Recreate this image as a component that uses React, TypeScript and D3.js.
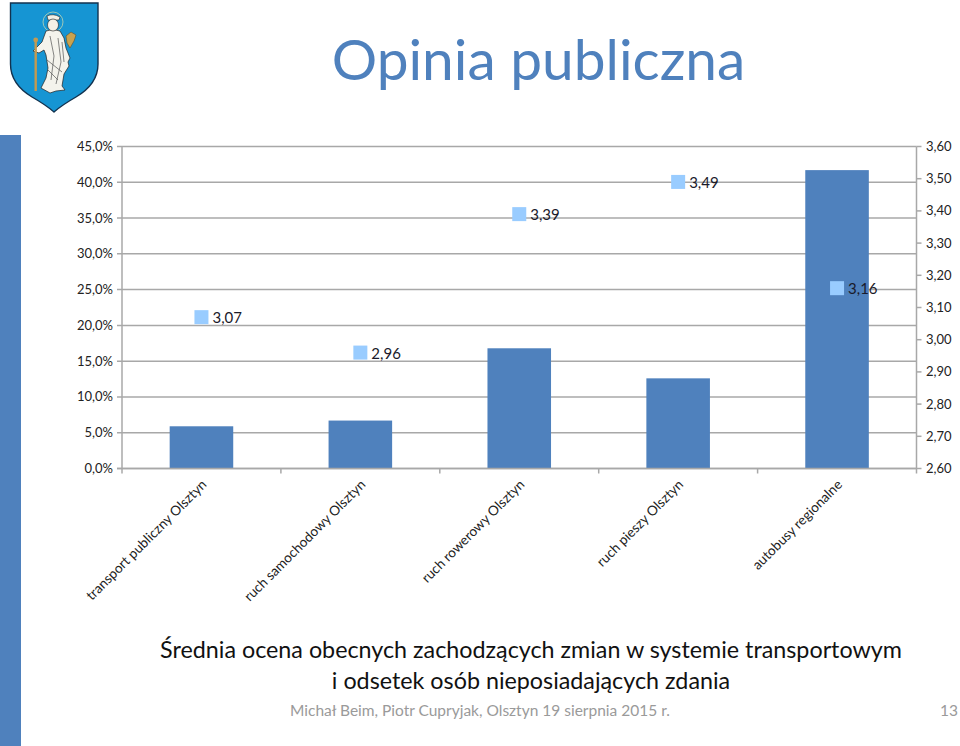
import React, { useEffect, useRef } from "react";
import * as d3 from "d3";

const categories = [
  "transport publiczny Olsztyn",
  "ruch samochodowy Olsztyn",
  "ruch rowerowy Olsztyn",
  "ruch pieszy Olsztyn",
  "autobusy regionalne",
];
const shareValues = [5.9, 6.7, 16.8, 12.6, 41.7];
const ratingValues = [3.07, 2.96, 3.39, 3.49, 3.16];
const leftTicks = [0, 5, 10, 15, 20, 25, 30, 35, 40, 45];
const rightTicks = [2.6, 2.7, 2.8, 2.9, 3.0, 3.1, 3.2, 3.3, 3.4, 3.5, 3.6];
const captionLines = [
  "Średnia ocena obecnych zachodzących zmian w systemie transportowym",
  "i odsetek osób nieposiadających zdania",
];

const width = 960;
const height = 746;
const font = "Lato, 'Open Sans', sans-serif";
const blue = "#4f81bd";
const grey = "#a8a8a8";

const App = () => {
  const svgRef = useRef<SVGSVGElement>(null);

  useEffect(() => {
    const svg = d3.select(svgRef.current);
    svg.selectAll("*").remove();

    const left = 122;
    const right = 916.5;
    const top = 146.5;
    const bottom = 468.5;

    const x = d3
      .scaleBand()
      .domain(categories)
      .range([left, right])
      .paddingInner(0.6)
      .paddingOuter(0.3);
    const yLeft = d3.scaleLinear().domain([0, 45]).range([bottom, top]);
    const yRight = d3.scaleLinear().domain([2.6, 3.6]).range([bottom, top]);

    // side stripe of the slide
    svg.append("rect").attr("x", 0).attr("y", 135).attr("width", 21).attr("height", 611).attr("fill", blue);

    // crest
    const crest = svg.append("g");
    crest
      .append("path")
      .attr("d", "M10.5 3 H98 V64 Q98 84 76 97 Q62 105 54 112 Q46 105 32 97 Q10.5 84 10.5 64 Z")
      .attr("fill", "#1695d3")
      .attr("stroke", "#12324f")
      .attr("stroke-width", 1.4);
    crest.append("circle").attr("cx", 53).attr("cy", 22).attr("r", 10).attr("fill", "none").attr("stroke", "#9cc7b8").attr("stroke-width", 1);
    crest
      .append("path")
      .attr("d", "M46 31 Q53 28 60 31 L64 38 L66 48 L70 58 L68 62 L69 66 L64 74 L62 86 L65 90 L56 91 L50 93 L41 88 L46 78 L48 68 L46 55 L44 50 L39 53 L33 51 L42 42 Z")
      .attr("fill", "#f4f3ec")
      .attr("stroke", "#222")
      .attr("stroke-width", 0.7);
    crest.append("path").attr("d", "M47 16 Q53 13 60 17 L59 20 L48 20 Z").attr("fill", "#f2f0e6").attr("stroke", "#222").attr("stroke-width", 0.6);
    crest.append("ellipse").attr("cx", 53).attr("cy", 25).attr("rx", 5.5).attr("ry", 6).attr("fill", "#f4f1e6").attr("stroke", "#222").attr("stroke-width", 0.6);
    crest.append("path").attr("d", "M50 36 L54 56 L51 80 M58 38 L61 62 L56 84 M47 60 L62 72 M48 70 L58 80 M62 42 L64 62").attr("fill", "none").attr("stroke", "#555").attr("stroke-width", 0.7);
    crest.append("rect").attr("x", 34.5).attr("y", 40).attr("width", 2.4).attr("height", 51).attr("fill", "#c49a50");
    crest.append("circle").attr("cx", 35.7).attr("cy", 40).attr("r", 2.4).attr("fill", "#c49a50");
    crest.append("path").attr("d", "M66 36 L71 32 L76 35 L74 41 L70 48 L67 43 Z").attr("fill", "#c9a24e").attr("stroke", "#5a4520").attr("stroke-width", 0.5);

    svg
      .append("text")
      .attr("x", 538.5)
      .attr("y", 80)
      .attr("text-anchor", "middle")
      .attr("font-family", font)
      .attr("font-size", 56.8)
      .attr("fill", blue)
      .text("Opinia publiczna");

    // gridlines
    svg
      .append("g")
      .selectAll("line")
      .data(leftTicks)
      .join("line")
      .attr("x1", left - 5)
      .attr("x2", right)
      .attr("y1", (d) => yLeft(d))
      .attr("y2", (d) => yLeft(d))
      .attr("stroke", grey)
      .attr("stroke-width", 1.5);

    // bars
    svg
      .append("g")
      .selectAll("rect")
      .data(shareValues)
      .join("rect")
      .attr("x", (_, i) => x(categories[i]))
      .attr("y", (d) => yLeft(d))
      .attr("width", x.bandwidth())
      .attr("height", (d) => bottom - yLeft(d))
      .attr("fill", blue);

    // axes
    const axisLines = svg.append("g").attr("stroke", grey).attr("stroke-width", 1.5);
    axisLines.append("line").attr("x1", left).attr("x2", left).attr("y1", top).attr("y2", bottom + 5);
    axisLines.append("line").attr("x1", right).attr("x2", right).attr("y1", top).attr("y2", bottom + 5);
    axisLines.append("line").attr("x1", left - 5).attr("x2", right).attr("y1", bottom).attr("y2", bottom);
    axisLines
      .selectAll(".rtick")
      .data(rightTicks)
      .join("line")
      .attr("class", "rtick")
      .attr("x1", right)
      .attr("x2", right + 5)
      .attr("y1", (d) => yRight(d))
      .attr("y2", (d) => yRight(d));
    axisLines
      .selectAll(".ctick")
      .data(categories.slice(1))
      .join("line")
      .attr("class", "ctick")
      .attr("x1", (d) => x(d)! - x.step() * 0.3)
      .attr("x2", (d) => x(d)! - x.step() * 0.3)
      .attr("y1", bottom)
      .attr("y2", bottom + 5);

    const tickText = (sel: any) =>
      sel.attr("font-family", font).attr("font-size", 13).attr("fill", "#222");

    svg
      .append("g")
      .selectAll("text")
      .data(leftTicks)
      .join("text")
      .attr("x", 113)
      .attr("y", (d) => yLeft(d) + 4.5)
      .attr("text-anchor", "end")
      .text((d) => d.toFixed(1).replace(".", ",") + "%")
      .call(tickText);

    svg
      .append("g")
      .selectAll("text")
      .data(rightTicks)
      .join("text")
      .attr("x", 926)
      .attr("y", (d) => yRight(d) + 4.5)
      .text((d) => d.toFixed(2).replace(".", ","))
      .call(tickText);

    // category labels
    svg
      .append("g")
      .selectAll("text")
      .data(categories)
      .join("text")
      .attr(
        "transform",
        (d) => `translate(${x(d)! + x.bandwidth() / 2 + 6},${bottom + 17}) rotate(-45)`,
      )
      .attr("text-anchor", "end")
      .attr("font-family", font)
      .attr("font-size", 13.6)
      .attr("fill", "#222")
      .text((d) => d);

    // rating markers
    svg
      .append("g")
      .selectAll("rect")
      .data(ratingValues)
      .join("rect")
      .attr("x", (_, i) => x(categories[i])! + x.bandwidth() / 2 - 7)
      .attr("y", (d) => yRight(d) - 7)
      .attr("width", 14)
      .attr("height", 14)
      .attr("fill", "#99ccff");

    svg
      .append("g")
      .selectAll("text")
      .data(ratingValues)
      .join("text")
      .attr("x", (_, i) => x(categories[i])! + x.bandwidth() / 2 + 11)
      .attr("y", (d) => yRight(d) + 6)
      .attr("font-family", font)
      .attr("font-size", 15)
      .attr("fill", "#1a1a2a")
      .text((d) => d.toFixed(2).replace(".", ","));

    // caption
    svg
      .append("g")
      .selectAll("text")
      .data(captionLines)
      .join("text")
      .attr("x", 531)
      .attr("y", (_, i) => 658 + i * 31)
      .attr("text-anchor", "middle")
      .attr("font-family", font)
      .attr("font-size", 23.3)
      .attr("fill", "#111")
      .text((d) => d);

    // footer
    svg
      .append("text")
      .attr("x", 290)
      .attr("y", 716)
      .attr("font-family", font)
      .attr("font-size", 15.5)
      .attr("fill", "#9a9a9a")
      .text("Michał Beim, Piotr Cupryjak, Olsztyn 19 sierpnia 2015 r.");
    svg
      .append("text")
      .attr("x", 958)
      .attr("y", 716)
      .attr("text-anchor", "end")
      .attr("font-family", font)
      .attr("font-size", 15.5)
      .attr("fill", "#9a9a9a")
      .text("13");
  }, []);

  return (
    <svg
      ref={svgRef}
      width={width}
      height={height}
      style={{ position: "absolute", left: 0, top: 0, background: "#fff" }}
    ></svg>
  );
};

export default App;
